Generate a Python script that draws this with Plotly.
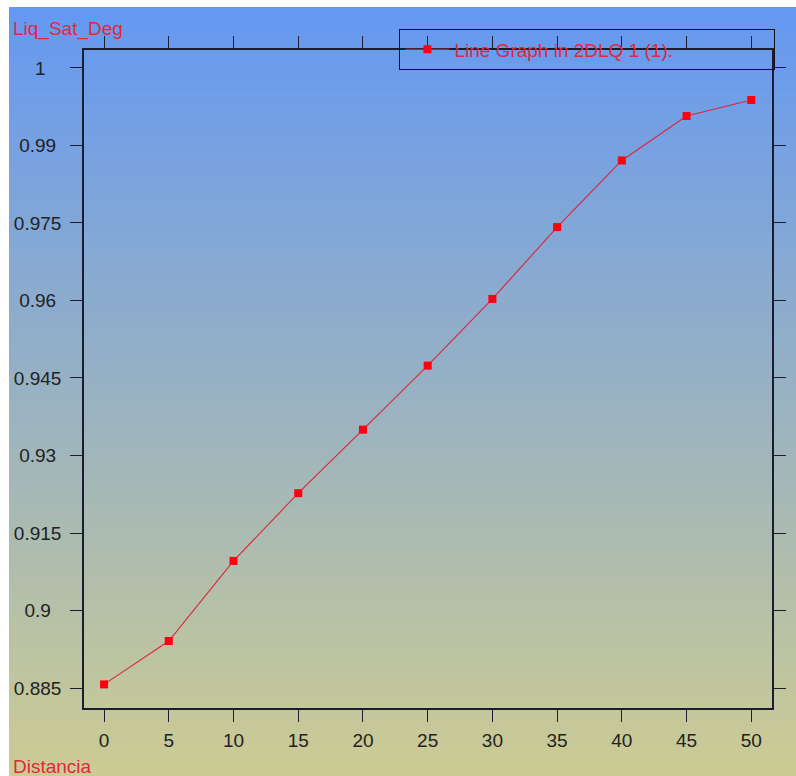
import plotly.graph_objects as go

distancia = [0, 5, 10, 15, 20, 25, 30, 35, 40, 45, 50]
liq_sat_deg = [0.8857, 0.8941, 0.9096, 0.9227, 0.9350, 0.9474, 0.9603, 0.9742, 0.9871, 0.9957, 0.9988]

x_ticks = [0, 5, 10, 15, 20, 25, 30, 35, 40, 45, 50]
y_tickvals = [0.885, 0.9, 0.915, 0.93, 0.945, 0.96, 0.975, 0.99, 1.005]
y_ticktext = ["0.885", "0.9", "0.915", "0.93", "0.945", "0.96", "0.975", "0.99", "1"]

W, H = 796, 776
L, R, T, B = 84, 24, 50, 68
pw, ph = W - L - R, H - T - B
FONT = "Liberation Sans, Arial"

def px_x(p):
    return (p - L) / pw

def px_y(p):
    return (H - B - p) / ph

# centre the y tick labels (as in the reference) by padding shorter labels on the right
NB = "\u00a0"
PAD = {5: 0, 4: 1, 3: 2, 1: 3}
y_ticktext_c = [t + NB * PAD.get(len(t), 0) for t in y_ticktext]

fig = go.Figure()
fig.add_trace(go.Scatter(
    x=distancia, y=liq_sat_deg, mode="lines+markers",
    name="Line Graph in 2DLQ 1 (1).",
    line=dict(color="#d8283a", width=1.1),
    marker=dict(symbol="square", size=8, color="#ff0010"),
    cliponaxis=False,
))

# vertical gradient background (each band extends to the bottom, later bands overwrite)
top_c = (100, 152, 242)
bot_c = (206, 204, 146)
gx0, gx1 = px_x(9), px_x(W + 20)
n = 240
y_top_px, y_bot_px = 7, H + 10
shapes = []
for i in range(n):
    t = i / (n - 1)
    c = tuple(int(round(top_c[k] + (bot_c[k] - top_c[k]) * t)) for k in range(3))
    p0 = y_top_px + (y_bot_px - y_top_px) * i / n
    shapes.append(dict(type="rect", xref="paper", yref="paper", x0=gx0, x1=gx1,
                       y0=px_y(y_bot_px), y1=px_y(p0), fillcolor="rgb(%d,%d,%d)" % c,
                       line=dict(width=0), layer="below"))

axis_common = dict(showline=True, linecolor="#1c1c30", linewidth=1.6, mirror="ticks",
                   ticks="outside", ticklen=12, tickwidth=1.4, tickcolor="#1c1c30",
                   showgrid=False, zeroline=False, automargin=False,
                   tickfont=dict(family=FONT, size=19, color="#222222"))

fig.update_layout(
    width=W, height=H,
    margin=dict(l=L, r=R, t=T, b=B, pad=0, autoexpand=False),
    paper_bgcolor="white", plot_bgcolor="rgba(0,0,0,0)",
    shapes=shapes,
    xaxis=dict(range=[-1.55, 51.6], tickvals=x_ticks, ticklabelstandoff=2, **axis_common),
    yaxis=dict(range=[0.88113, 1.00848], tickvals=y_tickvals, ticktext=y_ticktext_c,
               ticklabelstandoff=5, **axis_common),
    showlegend=True,
    legend=dict(x=px_x(399), y=px_y(29), xanchor="left", yanchor="top",
                orientation="h",
                bgcolor="rgba(0,0,0,0)", bordercolor="#111111", borderwidth=1.4,
                font=dict(family=FONT, size=19, color="#e0283c"),
                entrywidth=314, entrywidthmode="pixels", itemwidth=44),
    annotations=[
        dict(text="Liq_Sat_Deg", xref="paper", yref="paper", x=px_x(11), y=px_y(29),
             xanchor="left", yanchor="middle", showarrow=False,
             font=dict(family=FONT, size=19, color="#e0283c")),
        dict(text="Distancia", xref="paper", yref="paper", x=px_x(11), y=px_y(766),
             xanchor="left", yanchor="middle", showarrow=False,
             font=dict(family=FONT, size=19, color="#e0283c")),
    ],
)

fig.write_html("out.html")
